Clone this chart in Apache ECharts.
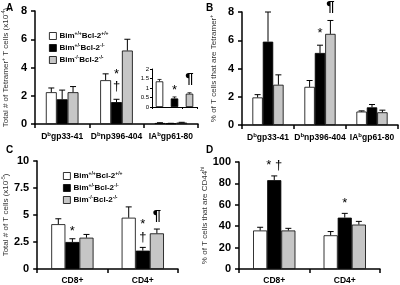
<!DOCTYPE html>
<html>
<head>
<meta charset="utf-8">
<script src="https://cdn.jsdelivr.net/npm/echarts@6/dist/echarts.min.js"></script>
<style>
  html, body { margin: 0; padding: 0; background: #fff; }
  #main { width: 400px; height: 285px; }
</style>
</head>
<body>
<div id="main"></div>
<script>
// genotypes (series)
var genotypes = ['Bim+/+Bcl-2+/+', 'Bim+/-Bcl-2-/-', 'Bim-/-Bcl-2-/-'];
var genoRich = ['Bim{s|+/+}Bcl-2{s|+/+}', 'Bim{s|+/-}Bcl-2{s|-/-}', 'Bim{s|-/-}Bcl-2{s|-/-}'];
var colors = ['#ffffff', '#000000', '#c6c6c6'];

// tick labels
var tetCats = ['D{s|b}gp33-41', 'D{s|b}np396-404', 'IA{s|b}gp61-80'];
var cellCats = ['CD8+', 'CD4+'];
var insetCats = ['wt', 'het', 'ko'];

// A: total # tetramer+ T cells
var aVals = [[2.25, 3.1, 0.07], [1.75, 1.55, 0.04], [2.25, 5.2, 0.1]];
var aErr = [[0.3, 0.45, 0.02], [0.65, 0.2, 0.01], [0.4, 0.8, 0.02]];
var insetVals = [1.35, 0.45, 0.7];
var insetErr = [0.1, 0.08, 0.05];

// B: % of T cells that are tetramer+
var bVals = [[1.95, 2.7, 0.95], [5.9, 5.1, 1.25], [2.85, 6.45, 0.9]];
var bErr = [[0.2, 0.45, 0.05], [2.1, 0.55, 0.2], [0.7, 0.95, 0.15]];

// C: total # of T cells
var cVals = [[4.15, 4.75], [2.5, 1.7], [2.9, 3.3]];
var cErr = [[0.5, 1.0], [0.3, 0.3], [0.3, 0.4]];

// D: % CD44hi
var dVals = [[36, 31.5], [83, 48], [36, 41.5]];
var dErr = [[3, 3.5], [4, 4], [2, 3]];

// significance marks: [category, bar index, y, text]
var aMarks = [[1, 1, 3.5, '*'], [1, 1, 2.65, '†']];
var insetMarks = [[1, 0, 0.85, '*'], [2, 0, 1.5, '¶']];
var bMarks = [[1, 1, 6.45, '*'], [1, 2, 8.35, '¶']];
var cMarks = [[0, 1, 3.5, '*'], [1, 1, 4.1, '*'], [1, 1, 2.9, '†'], [1, 2, 4.95, '¶']];
var dMarks = [[0, 1, 97, '* †'], [1, 1, 61, '*']];

var GAP = 0.4;
var chart = echarts.init(document.getElementById('main'));

function errRender(idx, nBars, gap) {
  return function (params, api) {
    var cat = api.value(0), v = api.value(1), e = api.value(2);
    var band = api.size([1, 0])[0];
    var bw = band * (1 - gap) / nBars;
    var x = api.coord([cat, 0])[0] + (idx - (nBars - 1) / 2) * bw;
    var y0 = api.coord([cat, v])[1];
    var y1 = api.coord([cat, v + e])[1];
    var st = { stroke: '#000', lineWidth: 1 };
    return { type: 'group', children: [
      { type: 'line', shape: { x1: x, y1: y0, x2: x, y2: y1 }, style: st },
      { type: 'line', shape: { x1: x - 3, y1: y1, x2: x + 3, y2: y1 }, style: st }
    ] };
  };
}

function markRender(marks, nBars, gap) {
  return function (params, api) {
    var m = marks[params.dataIndex];
    var band = api.size([1, 0])[0];
    var bw = band * (1 - gap) / nBars;
    var p = api.coord([m[0], m[2]]);
    var x = p[0] + (m[1] - (nBars - 1) / 2) * bw;
    var big = m[3] === '¶';
    return { type: 'text', x: x, y: p[1], style: {
      text: m[3], fill: '#000', align: 'center', verticalAlign: 'middle',
      font: (big ? 'bold 15px' : '13px') + ' "Liberation Sans", Arial, sans-serif'
    } };
  };
}

var supRich = { s: { fontSize: 6, verticalAlign: 'top', padding: [0, 0, 6, 0], fontWeight: 'bold', fontFamily: 'Liberation Sans' } };

function yAxis(grid, max, interval, name, extra) {
  return Object.assign({
    type: 'value', gridIndex: grid, min: 0, max: max, interval: interval,
    name: name, nameLocation: 'middle', nameGap: 24, nameRotate: 90,
    nameTextStyle: { fontSize: 8, color: '#333', fontFamily: 'Liberation Sans', rich: {
      s: { fontSize: 5, verticalAlign: 'top', padding: [0, 0, 5, 0], color: '#333' } } },
    axisLine: { show: true, lineStyle: { color: '#000', width: 1.5 } },
    axisTick: { show: true, length: 4, lineStyle: { color: '#000', width: 1.5 } },
    axisLabel: { color: '#000', fontSize: 11, fontWeight: 'bold', fontFamily: 'Liberation Sans', margin: 8 },
    splitLine: { show: false }
  }, extra || {});
}

function xAxis(grid, cats, extra) {
  return Object.assign({
    type: 'category', gridIndex: grid, data: cats,
    axisLine: { lineStyle: { color: '#000', width: 1.5 } },
    axisTick: { show: true, length: 4, alignWithLabel: false, lineStyle: { color: '#000', width: 1.5 } },
    axisLabel: { interval: 0, hideOverlap: false, color: '#000', fontSize: 8.5, fontWeight: 'bold',
      fontFamily: 'Liberation Sans', margin: 7, rich: supRich }
  }, extra || {});
}

var series = [];
function addPanel(grid, vals, errs, marks) {
  for (var i = 0; i < 3; i++) {
    series.push({
      type: 'bar', name: genotypes[i], xAxisIndex: grid, yAxisIndex: grid,
      data: vals[i], barGap: '0%', barCategoryGap: (GAP * 100) + '%',
      itemStyle: { color: colors[i], borderColor: '#000', borderWidth: 0.8 }, silent: true
    });
  }
  for (var j = 0; j < 3; j++) {
    series.push({
      type: 'custom', xAxisIndex: grid, yAxisIndex: grid, z: 5, silent: true,
      renderItem: errRender(j, 3, GAP),
      data: vals[j].map(function (v, k) { return [k, v, errs[j][k]]; })
    });
  }
  series.push({
    type: 'custom', xAxisIndex: grid, yAxisIndex: grid, z: 6, silent: true,
    renderItem: markRender(marks, 3, GAP),
    data: marks.map(function (m) { return [m[0], m[2]]; })
  });
}
addPanel(0, aVals, aErr, aMarks);
addPanel(1, bVals, bErr, bMarks);
addPanel(2, cVals, cErr, cMarks);
addPanel(3, dVals, dErr, dMarks);

// inset in panel A
series.push({
  type: 'bar', xAxisIndex: 4, yAxisIndex: 4, silent: true, barCategoryGap: '50%',
  data: insetVals.map(function (v, k) {
    return { value: v, itemStyle: { color: colors[k], borderColor: '#000', borderWidth: 0.8 } };
  })
});
series.push({
  type: 'custom', xAxisIndex: 4, yAxisIndex: 4, z: 5, silent: true,
  renderItem: function (params, api) {
    var cat = api.value(0), v = api.value(1), e = api.value(2);
    var x = api.coord([cat, 0])[0];
    var y0 = api.coord([cat, v])[1], y1 = api.coord([cat, v + e])[1];
    var st = { stroke: '#000', lineWidth: 0.8 };
    return { type: 'group', children: [
      { type: 'line', shape: { x1: x, y1: y0, x2: x, y2: y1 }, style: st },
      { type: 'line', shape: { x1: x - 2, y1: y1, x2: x + 2, y2: y1 }, style: st }
    ] };
  },
  data: insetVals.map(function (v, k) { return [k, v, insetErr[k]]; })
});
series.push({
  type: 'custom', xAxisIndex: 4, yAxisIndex: 4, z: 6, silent: true,
  renderItem: markRender(insetMarks, 1, 0.5),
  data: insetMarks.map(function (m) { return [m[0], m[2]]; })
});

var legendBase = {
  orient: 'vertical', data: genotypes, itemWidth: 7, itemHeight: 7, itemGap: 3,
  icon: 'rect', selectedMode: false,
  itemStyle: { borderColor: '#000', borderWidth: 0.8 },
  formatter: function (n) { return genoRich[genotypes.indexOf(n)]; },
  textStyle: { fontSize: 8, fontWeight: 'bold', color: '#000', fontFamily: 'Liberation Sans', padding: [0, 0, 0, -2],
    rich: { s: { fontSize: 5, fontWeight: 'bold', verticalAlign: 'top', padding: [0, 0, 5, 0] } } }
};

var titleFont = { fontSize: 10, fontWeight: 'bold', color: '#000', fontFamily: 'Liberation Sans' };

chart.setOption({
  animation: false,
  backgroundColor: '#fff',
  title: [
    { text: 'A', left: 1, top: -2, textStyle: titleFont },
    { text: 'B', left: 201, top: -2, textStyle: titleFont },
    { text: 'C', left: 1, top: 140, textStyle: titleFont },
    { text: 'D', left: 201, top: 140, textStyle: titleFont }
  ],
  legend: [
    Object.assign({}, legendBase, { left: 44, top: 26 }),
    Object.assign({}, legendBase, { left: 58, top: 166 })
  ],
  grid: [
    { left: 33, top: 11, width: 165, height: 113 },
    { left: 242, top: 12, width: 156, height: 113 },
    { left: 33, top: 161, width: 145, height: 114 },
    { left: 239, top: 162, width: 141, height: 113 },
    { left: 152, top: 69, width: 45, height: 38 }
  ],
  xAxis: [
    xAxis(0, tetCats),
    xAxis(1, tetCats),
    xAxis(2, cellCats),
    xAxis(3, cellCats),
    xAxis(4, insetCats, {
      axisLine: { lineStyle: { color: '#000', width: 1 } },
      axisTick: { show: true, length: 2, lineStyle: { color: '#000', width: 1 } },
      axisLabel: { show: false }
    })
  ],
  yAxis: [
    yAxis(0, 8, 2, 'Total # of Tetramer{s|+} T cells (x10{s|-4})', { nameGap: 24 }),
    yAxis(1, 8, 2, '% of T cells that are Tetramer{s|+}', { nameGap: 23 }),
    yAxis(2, 10, 2.5, 'Total # of T cells (x10{s|-5})', { nameGap: 26 }),
    yAxis(3, 100, 20, '% of T cells that are CD44{s|hi}', { nameGap: 27 }),
    yAxis(4, 2, 0.5, '', {
      axisLine: { show: true, lineStyle: { color: '#000', width: 1 } },
      axisTick: { show: true, length: 2, lineStyle: { color: '#000', width: 1 } },
      axisLabel: { color: '#000', fontSize: 6, fontFamily: 'Liberation Sans', margin: 3 }
    })
  ],
  series: series
});
</script>
</body>
</html>
